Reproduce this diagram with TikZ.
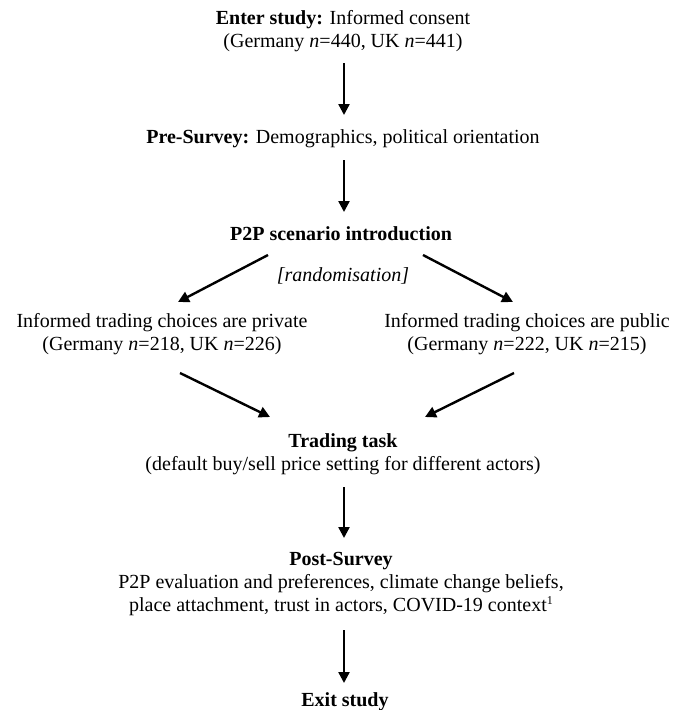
\documentclass[tikz,border=0pt]{standalone}
\usepackage{fontspec}
\setmainfont{Liberation Serif}
\usetikzlibrary{arrows.meta,calc}
\tikzset{
	stage/.style={inner sep=0pt,align=center,font=\fontsize{20}{23}\selectfont},
	flow/.style={line width=2.4pt,-{Triangle[length=11pt,width=11pt]}}
}
\begin{document}
\begin{tikzpicture}[x=1pt,y=-1pt]
		\useasboundingbox (0,0)rectangle(673,710);
		\node[stage] (enter) at(343,31){\textbf{Enter study:} Informed consent\\(Germany \textit{n}=440, UK \textit{n}=441)};
		\node[stage] (pre) at(343,139){\textbf{Pre-Survey:} Demographics, political orientation};
		\node[stage] (p2p) at(341,234){\textbf{P2P scenario introduction}};
		\node[stage] (rand) at(343,276){\textit{[randomisation]}};
		\node[stage] (priv) at(162,334){Informed trading choices are private\\(Germany \textit{n}=218, UK \textit{n}=226)};
		\node[stage] (pub) at(527,334){Informed trading choices are public\\(Germany \textit{n}=222, UK \textit{n}=215)};
		\node[stage] (trade) at(343,454){\textbf{Trading task}\\(default buy/sell price setting for different actors)};
		\node[stage] (post) at(341,584){\textbf{Post-Survey}\\P2P evaluation and preferences, climate change beliefs,\\place attachment, trust in actors, COVID-19 context{\fontsize{12}{12}\selectfont\raisebox{7pt}{1}}};
		\node[stage] (exit) at(345,702){\textbf{Exit study}};
		% straight steps
		\draw[flow] ($(enter)+(1,32)$)--($(pre)+(1,-24)$);
		\draw[flow] ($(pre)+(1,21)$)--($(p2p)+(3,-22)$);
		\draw[flow] ($(trade)+(1,33)$)--($(post)+(3,-46)$);
		\draw[flow] ($(post)+(3,46)$)--($(exit)+(-1,-19)$);
		% split and merge
		\draw[flow] ($(p2p)+(-73,21)$)--($(priv)+(16,-32)$);
		\draw[flow] ($(p2p)+(82,21)$)--($(pub)+(-14,-32)$);
		\draw[flow] ($(priv)+(18,39)$)--($(trade)+(-73,-37)$);
		\draw[flow] ($(pub)+(-13,39)$)--($(trade)+(82,-37)$);
	\end{tikzpicture}
\end{document}
